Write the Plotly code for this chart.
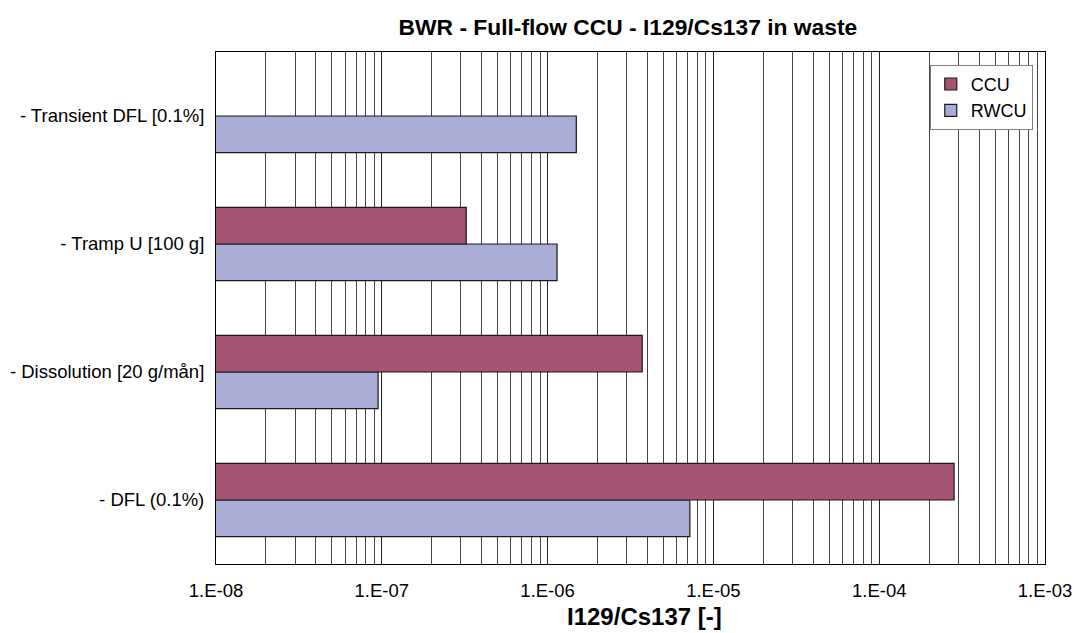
import plotly.graph_objects as go

categories = ["- DFL (0.1%)", "- Dissolution [20 g/mån]", "- Tramp U [100 g]", "- Transient DFL [0.1%]"]
ccu = [2.83e-4, 3.72e-6, 3.23e-7, None]
rwcu = [7.21e-6, 9.5e-8, 1.14e-6, 1.49e-6]
tick_vals = [1e-8, 1e-7, 1e-6, 1e-5, 1e-4, 1e-3]
tick_text = ["1.E-08", "1.E-07", "1.E-06", "1.E-05", "1.E-04", "1.E-03"]
minor_vals = [k * 10.0 ** e for e in range(-8, -3) for k in range(2, 10)]

font = "Liberation Sans, Arial, sans-serif"

fig = go.Figure()
fig.add_trace(go.Bar(y=categories, x=rwcu, name="RWCU", orientation="h",
                     marker=dict(color="#A9ADD6", line=dict(color="#1a1a1a", width=1.2))))
fig.add_trace(go.Bar(y=categories, x=ccu, name="CCU", orientation="h",
                     marker=dict(color="#A65374", line=dict(color="#1a1a1a", width=1.2))))

fig.update_layout(
    width=1077, height=633,
    margin=dict(l=216, r=32, t=52, b=69),
    paper_bgcolor="white", plot_bgcolor="white",
    barmode="group", bargap=0.427, bargroupgap=0,
    font=dict(family=font, size=18.5, color="black"),
    title=dict(text="<b>BWR - Full-flow CCU - I129/Cs137 in waste</b>",
               x=0.583, xanchor="center", y=0.957, yanchor="middle",
               font=dict(size=22.8, family=font, color="black")),
    legend=dict(x=0.861, y=0.975, xanchor="left", yanchor="top",
                traceorder="reversed", bgcolor="white",
                bordercolor="#808080", borderwidth=1,
                font=dict(size=18, family=font), itemwidth=30,
                tracegroupgap=0),
    showlegend=True,
    annotations=[dict(text="<b>I129/Cs137 [-]</b>", xref="paper", yref="paper",
                      x=0.517, y=-0.1016, xanchor="center", yanchor="middle",
                      showarrow=False, font=dict(size=24, family=font, color="black"))],
)
fig.update_xaxes(
    type="log", range=[-8, -3], automargin=False,
    tickvals=tick_vals, ticktext=tick_text,
    showgrid=True, gridcolor="#222222", gridwidth=1,
    minor=dict(tickvals=minor_vals, showgrid=True, gridcolor="#444444", gridwidth=1, ticks=""),
    showline=True, linecolor="black", linewidth=1, mirror=True,
    ticks="", ticklabelstandoff=10,
    zeroline=False,
)
fig.update_yaxes(
    automargin=False,
    showgrid=False, showline=True, linecolor="black", linewidth=1, mirror=True,
    ticks="", ticklabelstandoff=7,
)

fig.write_html("out.html",
               config={"displayModeBar": False},
               post_script="document.body.style.margin='0';document.body.style.overflow='hidden';")
